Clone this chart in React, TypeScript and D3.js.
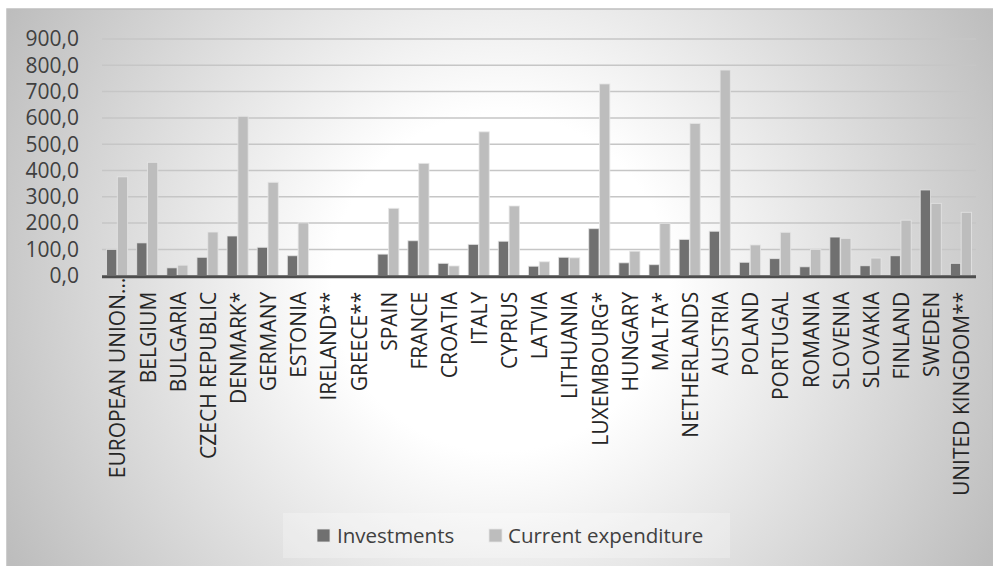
import React, { useEffect, useRef } from "react";
import * as d3 from "d3";

const categories = [
  "EUROPEAN UNION…", "BELGIUM", "BULGARIA", "CZECH REPUBLIC", "DENMARK*", "GERMANY", "ESTONIA",
  "IRELAND**", "GREECE**", "SPAIN", "FRANCE", "CROATIA", "ITALY", "CYPRUS", "LATVIA", "LITHUANIA",
  "LUXEMBOURG*", "HUNGARY", "MALTA*", "NETHERLANDS", "AUSTRIA", "POLAND", "PORTUGAL", "ROMANIA",
  "SLOVENIA", "SLOVAKIA", "FINLAND", "SWEDEN", "UNITED KINGDOM**",
];
const investments = [
  100, 125, 30, 70, 151, 108, 76, 0, 0, 82, 133, 47, 119, 131, 36, 70,
  179, 49, 42, 138, 169, 51, 65, 34, 147, 38, 76, 326, 47,
];
const currentExpenditure = [
  376, 431, 40, 166, 606, 355, 201, 0, 0, 256, 427, 37, 547, 265, 53, 68,
  729, 93, 199, 579, 782, 117, 165, 100, 142, 67, 211, 275, 241,
];
const yTicks = [0, 100, 200, 300, 400, 500, 600, 700, 800, 900];
const seriesNames = ["Investments", "Current expenditure"];
const seriesColors = ["#707070", "#bdbdbd"];

export default function App() {
  const ref = useRef<SVGSVGElement | null>(null);

  useEffect(() => {
    const svg = d3.select(ref.current);
    svg.selectAll("*").remove();
    const left = 102, right = 976, top = 39, bottom = 275.7;
    const font = "'Open Sans', sans-serif";

    const defs = svg.append("defs");
    const rg = defs.append("radialGradient").attr("id", "bg")
      .attr("gradientUnits", "userSpaceOnUse")
      .attr("cx", 500).attr("cy", 283).attr("r", 562);
    rg.append("stop").attr("offset", 0).attr("stop-color", "#ffffff");
    rg.append("stop").attr("offset", 0.3).attr("stop-color", "#ffffff");
    rg.append("stop").attr("offset", 1).attr("stop-color", "#bdbdbd");

    svg.append("rect").attr("x", 7).attr("y", 9).attr("width", 986).attr("height", 560)
      .attr("fill", "url(#bg)").attr("stroke", "#bfbfbf").attr("stroke-width", 1.5);

    const x = d3.scaleBand<string>().domain(categories).range([left, right]).paddingInner(0.3).paddingOuter(0.15);
    const xi = d3.scaleBand<string>().domain(seriesNames).range([0, x.bandwidth()]).paddingInner(0.05);
    const y = d3.scaleLinear().domain([0, 900]).range([bottom, top]);

    // gridlines
    svg.append("g").selectAll("line").data(yTicks.filter(t => t > 0)).join("line")
      .attr("x1", left).attr("x2", right)
      .attr("y1", d => y(d)).attr("y2", d => y(d))
      .attr("stroke", "#c6c6c6").attr("stroke-width", 1.5);

    // y tick labels
    svg.append("g").selectAll("text").data(yTicks).join("text")
      .attr("x", 79).attr("y", d => y(d)).attr("dy", "0.35em")
      .attr("text-anchor", "end").attr("font-family", font).attr("font-size", 21)
      .attr("fill", "#404040")
      .text(d => d3.format(".1f")(d).replace(".", ","));

    // bars
    const series = [investments, currentExpenditure];
    series.forEach((vals, si) => {
      svg.append("g").selectAll("rect").data(vals).join("rect")
        .attr("x", (d, i) => (x(categories[i]) as number) + (xi(seriesNames[si]) as number))
        .attr("width", xi.bandwidth())
        .attr("y", d => y(d))
        .attr("height", d => Math.max(0, y(0) - y(d)))
        .attr("fill", seriesColors[si])
        .attr("stroke", "#e6e6e6").attr("stroke-width", 1).attr("stroke-opacity", 0.8);
    });

    // axis line
    svg.append("line").attr("x1", left).attr("x2", right)
      .attr("y1", y(0) + 1).attr("y2", y(0) + 1)
      .attr("stroke", "#4d4d4d").attr("stroke-width", 3);

    // category labels
    svg.append("g").selectAll("text").data(categories).join("text")
      .attr("transform", d => `translate(${(x(d) as number) + x.bandwidth() / 2 + 1},${d.endsWith("…") ? bottom + 2 : bottom + 16}) rotate(-90)`)
      .attr("dy", "0.35em")
      .attr("text-anchor", "end").attr("font-family", font).attr("font-size", 21)
      .attr("fill", "#262626")
      .text(d => d);

    // legend
    svg.append("rect").attr("x", 283).attr("y", 513).attr("width", 447).attr("height", 45)
      .attr("fill", "#ffffff").attr("fill-opacity", 0.25);
    const legendItems = [
      { name: seriesNames[0], color: seriesColors[0], sx: 317, tx: 337 },
      { name: seriesNames[1], color: seriesColors[1], sx: 489, tx: 508 },
    ];
    legendItems.forEach(it => {
      svg.append("rect").attr("x", it.sx).attr("y", 529).attr("width", 13).attr("height", 13)
        .attr("fill", it.color).attr("stroke", "#e6e6e6").attr("stroke-width", 0.8);
      svg.append("text").attr("x", it.tx).attr("y", 535.5).attr("dy", "0.35em")
        .attr("font-family", font).attr("font-size", 20.5).attr("fill", "#404040")
        .text(it.name);
    });
  }, []);

  return (
    <svg ref={ref} width={993} height={566}
      style={{ position: "absolute", left: 0, top: 0, display: "block" }} />
  );
}
